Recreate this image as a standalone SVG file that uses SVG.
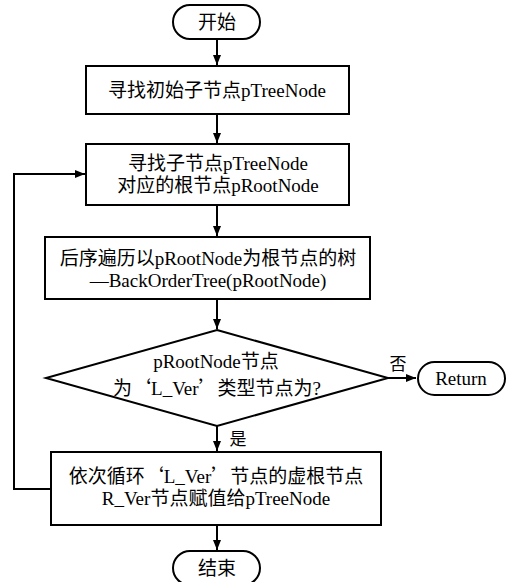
<svg xmlns="http://www.w3.org/2000/svg" width="514" height="582" viewBox="0 0 514 582">
<defs>
<marker id="ah" viewBox="0 0 10 8" refX="10" refY="4" markerWidth="10" markerHeight="8" markerUnits="userSpaceOnUse" orient="auto">
<path d="M0,0 L10,4 L0,8 Z" fill="#000"/>
</marker>
</defs>
<style>
.s{fill:#fff;stroke:#000;stroke-width:2}
.t{font-family:"Liberation Serif","Noto Sans CJK SC",serif;font-size:19px;fill:#000;text-anchor:middle}
.q{font-family:"Noto Sans CJK SC",sans-serif}
.c{fill:none;stroke:#000;stroke-width:2;marker-end:url(#ah)}
</style>
<rect width="514" height="582" fill="#fff"/>
<g id="connectors">
<path class="c" d="M217,39 V65"/>
<path class="c" d="M217,114 V143"/>
<path class="c" d="M217,205 V236"/>
<path class="c" d="M217,299 V329"/>
<path class="c" d="M388,378 H416"/>
<path class="c" d="M217,426 V451"/>
<path class="c" d="M217,525 V550"/>
<path class="c" d="M51,489 H14 V174 H85"/>
<text class="t" x="398" y="370" style="font-size:17px">否</text>
<text class="t" x="238" y="445" style="font-size:17px">是</text>
</g>
<g id="start">
<rect class="s" x="173" y="5" width="87" height="34" rx="17"/>
<text class="t" x="217" y="29">开始</text>
</g>
<g id="find-initial">
<rect class="s" x="86" y="66" width="263" height="48"/>
<text class="t" x="217" y="97">寻找初始子节点pTreeNode</text>
</g>
<g id="find-root">
<rect class="s" x="86" y="144" width="263" height="61"/>
<text class="t" x="218" y="170">寻找子节点pTreeNode</text>
<text class="t" x="218" y="192">对应的根节点pRootNode</text>
</g>
<g id="traverse">
<rect class="s" x="45" y="237" width="325" height="62"/>
<text class="t" x="208" y="265">后序遍历以pRootNode为根节点的树</text>
<text class="t" x="208" y="287">—BackOrderTree(pRootNode)</text>
</g>
<g id="decision">
<polygon class="s" points="217,330 388,378 217,426 46,378"/>
<text class="t" x="216" y="368">pRootNode节点</text>
<text class="t" x="217" y="395">为<tspan class="q">‘</tspan>L_Ver<tspan class="q">’</tspan>类型节点为?</text>
</g>
<g id="return">
<rect class="s" x="418" y="362" width="87" height="33" rx="16.5"/>
<text class="t" x="461" y="385">Return</text>
</g>
<g id="loop">
<rect class="s" x="51" y="452" width="330" height="73"/>
<text class="t" x="216" y="483">依次循环<tspan class="q">‘</tspan>L_Ver<tspan class="q">’</tspan>节点的虚根节点</text>
<text class="t" x="216" y="505">R_Ver节点赋值给pTreeNode</text>
</g>
<g id="end">
<rect class="s" x="173" y="551" width="87" height="34" rx="17"/>
<text class="t" x="217" y="575">结束</text>
</g>
</svg>
